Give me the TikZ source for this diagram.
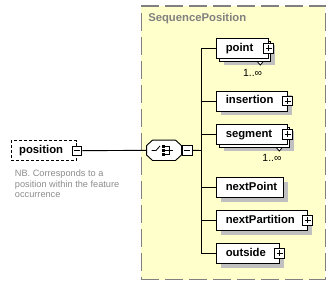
\documentclass[tikz,border=0pt]{standalone}
\usepackage{fontspec}
\setmainfont{Liberation Sans}
\usetikzlibrary{shadows,calc}

\definecolor{groupfill}{HTML}{FFFFCC}
\definecolor{groupline}{HTML}{808080}
\definecolor{shade}{HTML}{C0C0C0}
\definecolor{notegray}{HTML}{8C8C8C}

\begin{document}
\begin{tikzpicture}[x=1pt,y=-1pt,line width=0.9pt,
  labelfont/.style={font=\fontsize{11.3}{13}\selectfont\bfseries},
  boxbase/.style={draw=black,fill=white,labelfont,minimum height=20pt,
    inner xsep=0pt,inner ysep=0pt,text width=#1,align=left,anchor=west,
    text height=8.3pt,text depth=2.4pt,execute at begin node=\hspace*{9pt}},
  single/.style={boxbase=#1,
    drop shadow={shadow xshift=4.4pt,shadow yshift=-4.4pt,fill=shade,opacity=1}},
  multi/.style={boxbase=#1,
    drop shadow={shadow xshift=7pt,shadow yshift=-7pt,fill=shade,opacity=1},
    copy shadow={shadow xshift=2.7pt,shadow yshift=-2.7pt,draw=black,fill=white,opacity=1}},
  toggle/.style={draw=black,fill=white,minimum size=9.6pt,inner sep=0pt,line width=0.8pt},
  plusbox/.style={toggle,path picture={
    \draw[line width=0.8pt] ([xshift=1.8pt]path picture bounding box.west) -- ([xshift=-1.8pt]path picture bounding box.east);
    \draw[line width=0.8pt] ([yshift=-1.8pt]path picture bounding box.north) -- ([yshift=1.8pt]path picture bounding box.south);}},
  minusbox/.style={toggle,path picture={
    \draw[line width=0.8pt] ([xshift=1.8pt]path picture bounding box.west) -- ([xshift=-1.8pt]path picture bounding box.east);}},
  occurs/.style={font=\fontsize{10.4}{12}\selectfont,inner sep=0pt,anchor=east},
  marker/.style={draw=black,fill=white,line width=0.8pt,line join=miter}
]
\useasboundingbox (0,0) rectangle (335,285);

% group container
\node[draw=groupline,fill=groupfill,line width=1.2pt,dash pattern=on 18pt off 6pt,
  minimum width=183.8pt,minimum height=273.7pt,inner sep=0pt,anchor=north west]
  (group) at (140.7,5.3) {};
\node[labelfont,text=groupline,anchor=west,inner sep=0pt] (grouptitle) at (147.8,19) {SequencePosition};

% root element
\node[draw=black,fill=white,dash pattern=on 3pt off 2pt,labelfont,minimum width=65.3pt,
  minimum height=20pt,inner sep=0pt,text width=65.3pt,align=left,anchor=west,
  text height=8.3pt,text depth=2.4pt,execute at begin node=\hspace*{8pt}]
  (position) at (10.7,150.7) {position};
\node[minusbox] (posminus) at (position.east) {};
\node[font=\fontsize{9.2}{10.6}\selectfont,text=notegray,align=left,anchor=north west,inner sep=0pt]
  (note) at (14.5,169.4) {NB. Corresponds to a\\position within the feature\\occurrence};

% sequence compositor: octagon outline around an invisible anchor box
\node[minimum width=34pt,minimum height=19.5pt,inner sep=0pt] (seq) at (164,150.3) {};
\def\octagon{([xshift=6pt]seq.north west) -- ([xshift=-6pt]seq.north east)
  -- ([yshift=-5.5pt]seq.north east) -- ([yshift=5.5pt]seq.south east)
  -- ([xshift=-6pt]seq.south east) -- ([xshift=6pt]seq.south west)
  -- ([yshift=5.5pt]seq.south west) -- ([yshift=-5.5pt]seq.north west) -- cycle}
\fill[shade,shift={(3.5pt,-3.5pt)}] \octagon;
\filldraw[fill=white,draw=black] \octagon;
\node[minusbox,anchor=west] (seqminus) at ([xshift=0.6pt]seq.east) {};
\draw[line width=0.8pt] ([shift={(-12.5,0.2)}]seq.center) -- ([shift={(-8,0.2)}]seq.center)
  -- ([shift={(-4,-4.3)}]seq.center);
\foreach \dy in {-3.8,0.2,4.2}
  \fill ([shift={(-1.8,\dy-1.2)}]seq.center) rectangle ([shift={(0.8,\dy+1.2)}]seq.center);
\draw[line width=0.8pt] ([shift={(0.8,-3.8)}]seq.center) -- ([shift={(5.5,-3.8)}]seq.center)
  -- ([shift={(5.5,4.2)}]seq.center) -- ([shift={(0.8,4.2)}]seq.center);
\draw[line width=0.8pt] ([shift={(0.8,0.2)}]seq.center) -- ([shift={(9,0.2)}]seq.center);

% child elements
\node[multi=51.4pt] (point) at (216.3,48.3) {point};
\node[plusbox] (pointplus) at (point.east) {};
\node[single=70.4pt] (insertion) at (216.3,101) {insertion};
\node[plusbox] (insertionplus) at (insertion.east) {};
\node[multi=70.4pt] (segment) at (216.3,134.3) {segment};
\node[plusbox] (segmentplus) at (segment.east) {};
\node[single=67pt] (nextPoint) at (216.3,187.5) {nextPoint};
\node[single=90.4pt] (nextPartition) at (216.3,220.3) {nextPartition};
\node[plusbox] (nextPartitionplus) at (nextPartition.east) {};
\node[single=62.4pt] (outside) at (216.3,253.3) {outside};
\node[plusbox] (outsideplus) at (outside.east) {};

% occurrence markers
\foreach \n in {point,segment}{
  \draw[marker] ($(\n.south east)+(-11.3,2.7)$) -- ($(\n.south east)+(-5.3,2.7)$)
    -- ($(\n.south east)+(-8.3,6.3)$) -- cycle;
}
\node[occurs] (pointocc) at ($(point.south east)+(-6,13.7)$) {1..∞};
\node[occurs] (segmentocc) at ($(segment.south east)+(-5.7,13.4)$) {1..∞};

% connectors
\coordinate (spine) at (201.3,150.5);
\draw (posminus.east) -- (seq.west);
\draw (seqminus.east) -- (spine);
\draw (spine |- point.west) -- (spine |- outside.west);
\foreach \n in {point,insertion,segment,nextPoint,nextPartition,outside}
  \draw (spine |- \n.west) -- (\n.west);
\end{tikzpicture}
\end{document}
